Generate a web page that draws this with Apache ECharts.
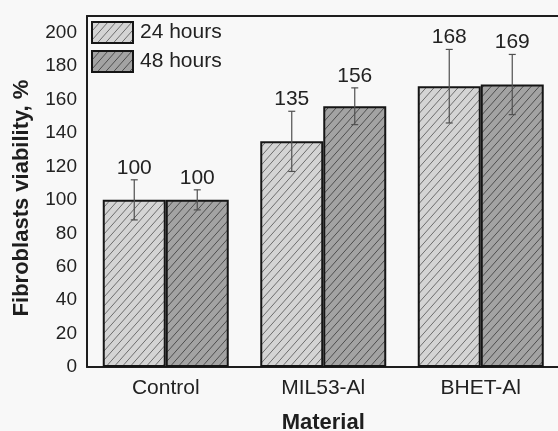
<!DOCTYPE html>
<html>
<head>
<meta charset="utf-8">
<script src="https://cdn.jsdelivr.net/npm/echarts@6/dist/echarts.min.js"></script>
<style>
  html, body { margin: 0; padding: 0; background: #f8f8f8; }
  #chart { width: 558px; height: 431px; }
</style>
</head>
<body>
<div id="chart"></div>
<script>
// ---- data ----
const categories = ['Control', 'MIL53-Al', 'BHET-Al'];
const seriesNames = ['24 hours', '48 hours'];
const viability24 = [100, 135, 168];
const viability48 = [100, 156, 169];
const error24 = [12, 18, 22];
const error48 = [6, 11, 18];
const yMin = 0, yMax = 210, yStep = 20;

// ---- hatch patterns ----
function makeHatch(bg, lineColor) {
  const w = 8, h = 9;
  const c = document.createElement('canvas');
  c.width = w; c.height = h;
  const ctx = c.getContext('2d');
  ctx.fillStyle = bg;
  ctx.fillRect(0, 0, w, h);
  ctx.strokeStyle = lineColor;
  ctx.lineWidth = 1;
  const k = h / w;
  [[0, h], [-w, h], [w, h]].forEach(([ox, oy]) => {
    ctx.beginPath();
    ctx.moveTo(ox - 2, oy + 2 * k);
    ctx.lineTo(ox + w + 2, oy - h - 2 * k);
    ctx.stroke();
  });
  return { image: c, repeat: 'repeat' };
}
const fill24 = makeHatch('#d4d4d4', '#6e6e6e');
const fill48 = makeHatch('#a3a3a3', '#4e4e4e');

const FONT = '"Liberation Sans", Arial, Helvetica, sans-serif';

const errData = [];
categories.forEach((c, i) => {
  errData.push([i, viability24[i], error24[i], 0]);
  errData.push([i, viability48[i], error48[i], 1]);
});

const chart = echarts.init(document.getElementById('chart'), null, { renderer: 'canvas' });

const option = {
  backgroundColor: '#f8f8f8',
  animation: false,
  textStyle: { fontFamily: FONT },
  grid: { left: 87, top: 16, width: 472.5, height: 351, show: false, containLabel: false, outerBoundsMode: 'none' },
  legend: {
    orient: 'vertical',
    left: 91, top: 21,
    itemWidth: 41, itemHeight: 21, itemGap: 6,
    padding: 0,
    icon: 'rect',
    textStyle: { fontSize: 21, color: '#222', fontFamily: FONT, padding: [0, 0, 0, 2] },
    data: seriesNames
  },
  xAxis: [{
    type: 'category',
    data: categories,
    name: 'Material',
    nameLocation: 'middle',
    nameGap: 45,
    nameTextStyle: { fontSize: 22, fontWeight: 'bold', color: '#1e1e1e', fontFamily: FONT },
    axisLine: { lineStyle: { color: '#1e1e1e', width: 2 } },
    axisTick: { show: false },
    axisLabel: { fontSize: 21, color: '#222', margin: 11, fontFamily: FONT }
  }, {
    type: 'category',
    data: categories,
    position: 'top',
    axisLine: { show: true, lineStyle: { color: '#1e1e1e', width: 2 } },
    axisTick: { show: false },
    axisLabel: { show: false },
    splitLine: { show: false }
  }],
  yAxis: {
    type: 'value',
    min: yMin, max: yMax, interval: yStep,
    axisLine: { show: true, lineStyle: { color: '#1e1e1e', width: 2 } },
    axisTick: { show: false },
    splitLine: { show: false },
    axisLabel: { fontSize: 19, color: '#222', margin: 10, fontFamily: FONT, showMaxLabel: false }
  },
  graphic: [{
    type: 'text',
    x: 22, y: 198,
    rotation: Math.PI / 2,
    style: {
      text: 'Fibroblasts viability, %',
      font: 'bold 22px ' + FONT,
      fill: '#1e1e1e',
      align: 'center',
      verticalAlign: 'middle'
    }
  }],
  series: [
    {
      name: seriesNames[0], type: 'bar', data: viability24,
      barGap: '0%', barCategoryGap: '20%',
      itemStyle: { color: fill24, borderColor: '#151515', borderWidth: 2 }
    },
    {
      name: seriesNames[1], type: 'bar', data: viability48,
      barGap: '0%', barCategoryGap: '20%',
      itemStyle: { color: fill48, borderColor: '#151515', borderWidth: 2 }
    },
    {
      type: 'custom',
      data: errData,
      encode: { x: 0, y: 1 },
      clip: false,
      z: 10,
      silent: true,
      renderItem: function (params, api) {
        const ci = api.value(0), v = api.value(1), e = api.value(2), s = api.value(3);
        const band = api.size([1, 0])[0];
        const bw = band * 0.8 / 2;
        const c = api.coord([ci, v]);
        const x = c[0] + (s === 0 ? -bw / 2 : bw / 2);
        const yTop = api.coord([ci, v + e])[1];
        const yBot = api.coord([ci, v - e])[1];
        const cap = 3.5;
        const ls = { stroke: '#505050', lineWidth: 1.2 };
        return {
          type: 'group',
          children: [
            { type: 'line', shape: { x1: x, y1: yTop, x2: x, y2: yBot }, style: ls },
            { type: 'line', shape: { x1: x - cap, y1: yTop, x2: x + cap, y2: yTop }, style: ls },
            { type: 'line', shape: { x1: x - cap, y1: yBot, x2: x + cap, y2: yBot }, style: ls },
            { type: 'text', x: x, y: yTop - 12,
              style: { text: String(v), font: '21px ' + FONT, fill: '#222', align: 'center', verticalAlign: 'middle' } }
          ]
        };
      }
    }
  ]
};
chart.setOption(option);
</script>
</body>
</html>
